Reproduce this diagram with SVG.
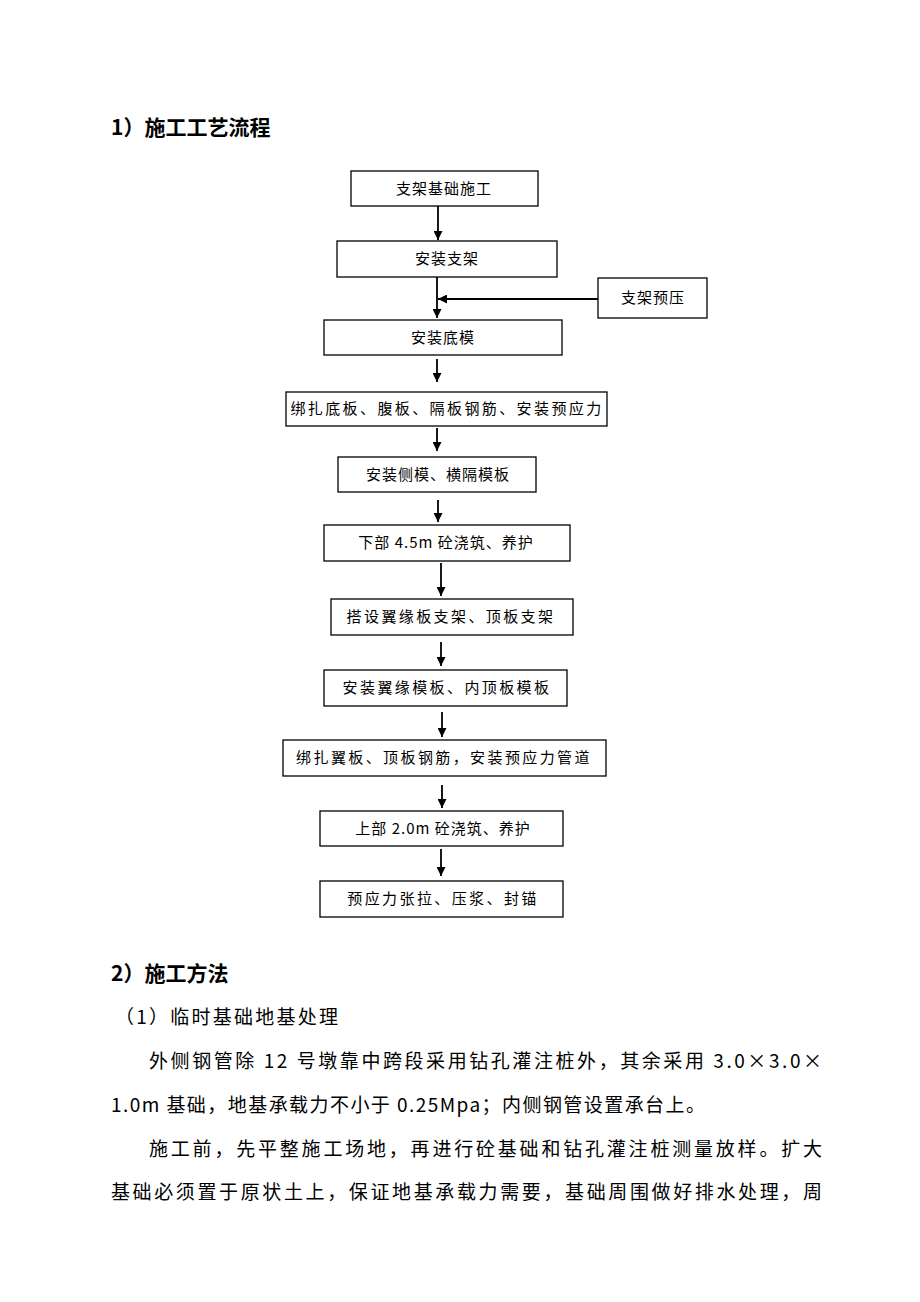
<svg xmlns="http://www.w3.org/2000/svg" width="920" height="1302" viewBox="0 0 920 1302">
<style>
.box{fill:#fff;stroke:#000;stroke-width:1.3}
.bt{font-family:"Noto Sans CJK SC","Liberation Serif",serif;font-size:15px;fill:#000;text-anchor:middle}
.w1{letter-spacing:1px}
.w2{letter-spacing:2.4px}
.h{font-family:"Noto Sans CJK SC","Liberation Sans",sans-serif;font-size:21px;font-weight:bold;fill:#000}
.p{font-family:"Noto Sans CJK SC","Liberation Serif",serif;font-size:19px;fill:#000}
.ln{stroke:#000;stroke-width:1.8;fill:none}
</style>
<defs>
<marker id="ah" viewBox="0 0 10 10" refX="10" refY="5" markerWidth="11" markerHeight="9" markerUnits="userSpaceOnUse" orient="auto">
<path d="M0,0 L10,5 L0,10 z" fill="#000"/>
</marker>
</defs>
<rect width="920" height="1302" fill="#fff"/>
<text class="h" x="111" y="135">1）施工工艺流程</text>
<g id="connectors">
<line class="ln" x1="438" y1="206" x2="438" y2="240" marker-end="url(#ah)"/>
<line class="ln" x1="437" y1="277" x2="437" y2="318" marker-end="url(#ah)"/>
<line class="ln" x1="598" y1="299" x2="438" y2="299" marker-end="url(#ah)"/>
<line class="ln" x1="437" y1="359" x2="437" y2="382" marker-end="url(#ah)"/>
<line class="ln" x1="437" y1="428" x2="437" y2="451" marker-end="url(#ah)"/>
<line class="ln" x1="438" y1="500" x2="438" y2="522" marker-end="url(#ah)"/>
<line class="ln" x1="441" y1="563" x2="441" y2="596" marker-end="url(#ah)"/>
<line class="ln" x1="441" y1="642" x2="441" y2="666" marker-end="url(#ah)"/>
<line class="ln" x1="442" y1="712" x2="442" y2="737" marker-end="url(#ah)"/>
<line class="ln" x1="442" y1="785" x2="442" y2="808" marker-end="url(#ah)"/>
<line class="ln" x1="441" y1="849" x2="441" y2="876" marker-end="url(#ah)"/>
</g>
<g id="n1"><rect class="box" x="351" y="171" width="187" height="35"/><text class="bt w1" x="444" y="194">支架基础施工</text></g>
<g id="n2"><rect class="box" x="337" y="241" width="220" height="36"/><text class="bt w1" x="447" y="264">安装支架</text></g>
<g id="n_pre"><rect class="box" x="598" y="278" width="109" height="40"/><text class="bt w1" x="653" y="303">支架预压</text></g>
<g id="n3"><rect class="box" x="324" y="320" width="238" height="35"/><text class="bt w1" x="443" y="343">安装底模</text></g>
<g id="n4"><rect class="box" x="286" y="392" width="321" height="34"/><text class="bt w2" x="447" y="414">绑扎底板、腹板、隔板钢筋、安装预应力</text></g>
<g id="n5"><rect class="box" x="338" y="457" width="198" height="35"/><text class="bt w1" x="438" y="480">安装侧模、横隔模板</text></g>
<g id="n6"><rect class="box" x="324" y="525" width="246" height="36"/><text class="bt w1" x="446" y="548">下部 4.5m 砼浇筑、养护</text></g>
<g id="n7"><rect class="box" x="331" y="599" width="242" height="36"/><text class="bt w2" x="451" y="622">搭设翼缘板支架、顶板支架</text></g>
<g id="n8"><rect class="box" x="324" y="670" width="243" height="36"/><text class="bt w2" x="447" y="693">安装翼缘模板、内顶板模板</text></g>
<g id="n9"><rect class="box" x="283" y="740" width="323" height="36"/><text class="bt w2" x="444" y="763">绑扎翼板、顶板钢筋，安装预应力管道</text></g>
<g id="n10"><rect class="box" x="320" y="811" width="243" height="35"/><text class="bt w1" x="443" y="834">上部 2.0m 砼浇筑、养护</text></g>
<g id="n11"><rect class="box" x="320" y="881" width="243" height="36"/><text class="bt w2" x="443" y="904">预应力张拉、压浆、封锚</text></g>
<text class="h" x="111" y="981">2）施工方法</text>
<text class="p" x="115" y="1024" textLength="223" lengthAdjust="spacing">（1）临时基础地基处理</text>
<text class="p" x="149" y="1068" textLength="673" lengthAdjust="spacing">外侧钢管除 12 号墩靠中跨段采用钻孔灌注桩外，其余采用 3.0×3.0×</text>
<text class="p" x="111" y="1112" textLength="594" lengthAdjust="spacing">1.0m 基础，地基承载力不小于 0.25Mpa；内侧钢管设置承台上。</text>
<text class="p" x="149" y="1156" textLength="673" lengthAdjust="spacing">施工前，先平整施工场地，再进行砼基础和钻孔灌注桩测量放样。扩大</text>
<text class="p" x="111" y="1199" textLength="711" lengthAdjust="spacing">基础必须置于原状土上，保证地基承载力需要，基础周围做好排水处理，周</text>
</svg>
